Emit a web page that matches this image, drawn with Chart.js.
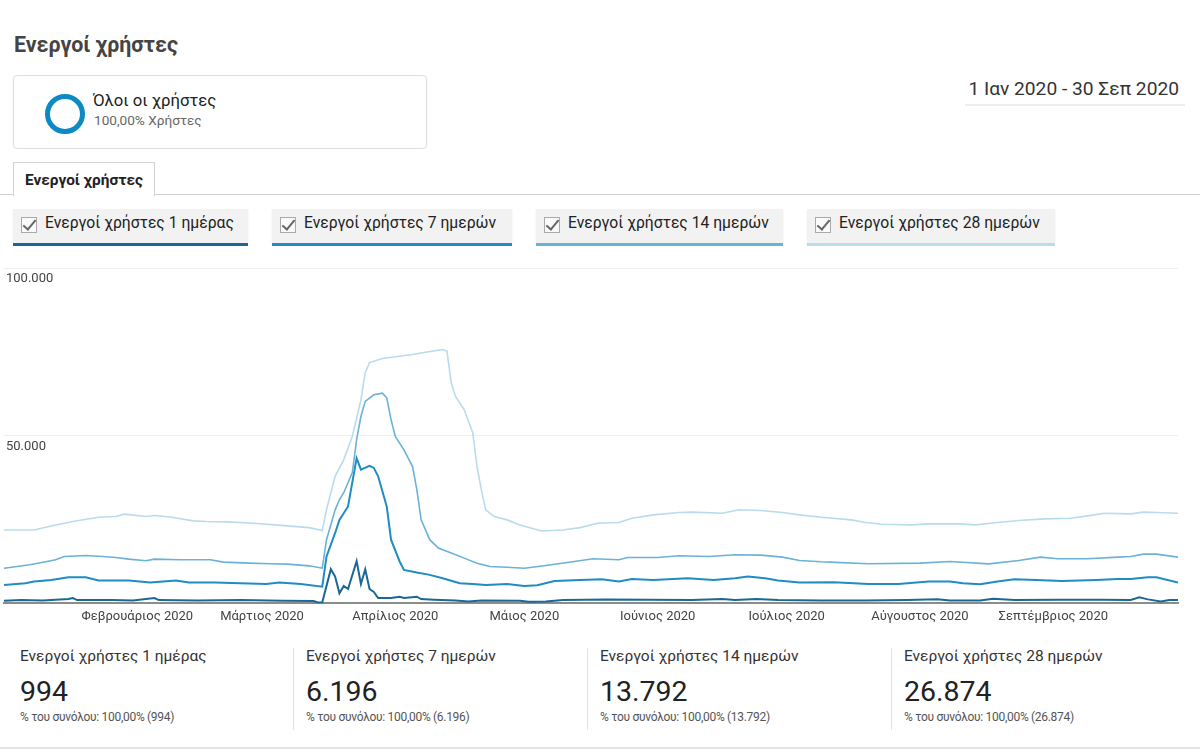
<!DOCTYPE html>
<html lang="el">
<head>
<meta charset="utf-8">
<title>Ενεργοί χρήστες</title>
<script src="https://cdn.jsdelivr.net/npm/chart.js@4.4.1/dist/chart.umd.min.js"></script>
<style>
  html, body { margin: 0; padding: 0; background: #fff; }
  body { width: 1200px; height: 756px; position: relative; overflow: hidden; font-family: Roboto, 'Noto Sans', sans-serif; color: #222; }
  .abs { position: absolute; }
  #title { left: 14px; top: 32px; font-size: 21.4px; font-weight: 700; color: #444; }
  #segment { left: 13px; top: 75px; width: 412px; height: 72px; border: 1px solid #dedede; border-radius: 4px; }
  #ring { left: 31px; top: 18px; width: 30px; height: 30px; border: 5px solid #0d8ac4; border-radius: 50%; }
  #segName { left: 79px; top: 15px; font-size: 16.7px; color: #222; }
  #segSub { left: 80px; top: 36px; font-size: 13.6px; color: #666; }
  #range { right: 21px; top: 77px; font-size: 19.2px; color: #333; }
  #rangeLine { left: 965px; top: 104px; width: 220px; height: 2px; background: #eeeeee; }
  #tabLine { left: 0; top: 194px; width: 1200px; height: 1px; background: #cfcfcf; }
  #tab { left: 13px; top: 162px; width: 140px; height: 33px; border: 1px solid #d4d4d4; border-bottom: 1px solid #fff; background: #fff; font-size: 15.4px; font-weight: 700; color: #222; line-height: 34px; text-indent: 11px; }
  .leg { top: 209px; height: 34px; background: #f2f2f2; box-shadow: 0 1px 2px rgba(0,0,0,.08); }
  .leg .bar { position: absolute; left: 0; right: 0; bottom: -3px; height: 3px; }
  .leg .box { position: absolute; left: 8px; top: 8px; width: 14px; height: 14px; border: 1px solid #aaa; background: #fafafa; }
  .leg .box::after { content: ''; position: absolute; left: 4px; top: -1px; width: 5px; height: 11px; border: solid #666; border-width: 0 2px 2px 0; transform: rotate(40deg); }
  .leg .txt { position: absolute; left: 32px; top: 4px; font-size: 15.7px; color: #222; white-space: nowrap; }
  #chartBox { left: 0; top: 255px; width: 1200px; height: 379px; }
  .stat { top: 647px; }
  .stat .h { font-size: 15.5px; color: #333; white-space: nowrap; }
  .stat .n { font-size: 28.5px; color: #222; margin-top: 10px; }
  .stat .s { font-size: 12px; letter-spacing: -0.3px; color: #555; margin-top: 2px; white-space: nowrap; }
  .sep { top: 648px; width: 1px; height: 82px; background: #e2e2e2; }
  #bottomLine { left: 0; top: 747px; width: 1200px; height: 2px; background: #e4e4e4; }
</style>
</head>
<body>
<div id="title" class="abs">Ενεργοί χρήστες</div>
<div id="segment" class="abs">
  <div id="ring" class="abs"></div>
  <div id="segName" class="abs">Όλοι οι χρήστες</div>
  <div id="segSub" class="abs">100,00% Χρήστες</div>
</div>
<div id="range" class="abs">1 Ιαν 2020 - 30 Σεπ 2020</div>
<div id="rangeLine" class="abs"></div>
<div id="tabLine" class="abs"></div>
<div id="tab" class="abs">Ενεργοί χρήστες</div>
<div id="legend"></div>
<div id="chartBox" class="abs"><canvas id="chart"></canvas></div>
<div id="stats"></div>
<div id="bottomLine" class="abs"></div>

<script>
/* ── Data: day index from 1 Jan 2020 (0) to 30 Sep 2020 (273) ── */
const seriesNames = ['Ενεργοί χρήστες 1 ημέρας', 'Ενεργοί χρήστες 7 ημερών', 'Ενεργοί χρήστες 14 ημερών', 'Ενεργοί χρήστες 28 ημερών'];
const seriesColors = ['#1a6896', '#1f8cc3', '#6ab2d7', '#b8dbee'];

const monthDays   = [31, 60, 91, 121, 152, 182, 213, 244];
const monthLabels = ['Φεβρουάριος 2020', 'Μάρτιος 2020', 'Απρίλιος 2020', 'Μάιος 2020', 'Ιούνιος 2020', 'Ιούλιος 2020', 'Αύγουστος 2020', 'Σεπτέμβριος 2020'];

const days1  = [0, 4, 9, 15, 16, 17, 25, 30, 35, 36, 45, 55, 65, 72, 73, 74, 76, 77, 78, 79, 80, 82, 83, 84, 85, 86, 87, 90, 92, 93, 96, 97, 100, 105, 108, 111, 120, 122, 126, 130, 140, 150, 160, 167, 170, 175, 180, 190, 200, 210, 217, 220, 227, 230, 235, 245, 255, 262, 264, 266, 269, 271, 273];
const users1 = [800, 1000, 900, 1300, 1600, 1000, 1000, 900, 1600, 1000, 900, 1000, 800, 700, 300, 300, 10200, 8000, 3000, 5200, 4300, 12600, 5800, 10200, 4300, 3400, 1600, 1600, 2000, 1600, 2000, 1300, 1100, 900, 600, 900, 800, 500, 600, 1000, 1200, 1100, 1000, 1300, 1000, 1300, 1000, 900, 900, 1000, 1200, 900, 900, 1400, 1000, 1100, 1100, 1000, 1800, 1200, 600, 1000, 994];

const days7  = [0, 5, 7, 11, 15, 19, 22, 25, 29, 34, 37, 40, 43, 49, 55, 61, 64, 69, 74, 75, 77, 78, 80, 82, 83, 85, 86, 87, 89, 90, 92, 93, 96, 99, 102, 106, 109, 112, 117, 121, 124, 128, 134, 139, 143, 146, 151, 159, 165, 170, 173, 177, 180, 185, 193, 201, 208, 215, 220, 223, 227, 231, 235, 240, 246, 254, 259, 262, 266, 268, 273];
const users7 = [5500, 6000, 6500, 7000, 7800, 7800, 6800, 6800, 6800, 6200, 6500, 6800, 6200, 6200, 6000, 5800, 6200, 5800, 5000, 14000, 21000, 24900, 28900, 43300, 39900, 41000, 40400, 37900, 28900, 19000, 12500, 10000, 9200, 8500, 7500, 6000, 5800, 5500, 5800, 5200, 5400, 6700, 7000, 7200, 6500, 7300, 7000, 7500, 7000, 7500, 8000, 7500, 6800, 6200, 6300, 5800, 5800, 6500, 6500, 6000, 5700, 6500, 7200, 7000, 6700, 7000, 7300, 7300, 7800, 7800, 6196];

const days14  = [0, 6, 10, 12, 14, 19, 23, 26, 29, 33, 35, 41, 48, 51, 57, 62, 66, 71, 74, 75, 77, 78, 79, 81, 82, 83, 84, 86, 88, 89, 90, 91, 93, 95, 96, 97, 99, 101, 104, 107, 110, 113, 117, 121, 126, 131, 137, 143, 145, 152, 157, 164, 170, 176, 181, 185, 190, 192, 201, 213, 220, 229, 236, 241, 245, 252, 259, 262, 265, 268, 273];
const users14 = [10500, 11500, 12500, 13000, 14000, 14300, 14000, 13700, 13200, 12700, 13200, 13000, 13000, 12300, 12000, 11800, 11700, 11200, 10500, 19000, 27900, 30900, 33000, 39000, 48800, 55800, 60200, 62200, 62700, 61300, 54800, 49800, 45800, 40800, 33900, 24900, 19000, 16500, 15000, 13500, 12000, 11000, 10800, 10500, 11300, 12200, 13300, 13000, 13700, 13700, 14200, 14000, 14500, 14400, 13800, 12800, 12400, 12300, 11800, 12000, 12500, 11800, 12800, 13800, 13300, 13300, 13800, 14000, 14700, 14700, 13792];

const days28  = [0, 7, 11, 16, 22, 26, 28, 33, 35, 39, 44, 47, 52, 58, 63, 68, 71, 74, 75, 77, 79, 81, 83, 84, 85, 88, 92, 95, 98, 102, 103, 104, 105, 107, 109, 110, 111, 112, 114, 117, 120, 125, 130, 134, 138, 143, 146, 151, 157, 160, 167, 171, 176, 181, 185, 190, 197, 200, 204, 211, 215, 222, 226, 231, 236, 242, 248, 252, 256, 262, 265, 268, 273];
const users28 = [21900, 21900, 23100, 24400, 25700, 25900, 26600, 25900, 26200, 25700, 24600, 24400, 24300, 23900, 23400, 22900, 22600, 21700, 28000, 37900, 42800, 49800, 60700, 68800, 71800, 73000, 73700, 74200, 74900, 75700, 75200, 65800, 61700, 57800, 50900, 40800, 33900, 27900, 25900, 24900, 23400, 21600, 21900, 22600, 23900, 24100, 25400, 26400, 27100, 27200, 26900, 27900, 27700, 27100, 26400, 25700, 24900, 24200, 23600, 23400, 23700, 23700, 23400, 24100, 24700, 25200, 25400, 26100, 26900, 26700, 27200, 27100, 26874];

const totals = ['994', '6.196', '13.792', '26.874'];

/* ── helpers ── */
const fmt = v => String(v).replace(/\B(?=(\d{3})+(?!\d))/g, '.');
const pts = (d, u) => d.map((x, i) => ({ x, y: u[i] }));

/* ── legend chips ── */
const legLeft = [13, 272, 536, 807];
const legWidth = [235, 240, 247, 248];
const legEl = document.getElementById('legend');
seriesNames.forEach((n, i) => {
  const d = document.createElement('div');
  d.className = 'abs leg';
  d.style.left = legLeft[i] + 'px';
  d.style.width = legWidth[i] + 'px';
  d.innerHTML = '<span class="box"></span><span class="txt">' + n + '</span><span class="bar" style="background:' + seriesColors[i] + '"></span>';
  legEl.appendChild(d);
});

/* ── totals row ── */
const statLeft = [20, 306, 600, 904];
const statsEl = document.getElementById('stats');
seriesNames.forEach((n, i) => {
  const d = document.createElement('div');
  d.className = 'abs stat';
  d.style.left = statLeft[i] + 'px';
  d.innerHTML = '<div class="h">' + n + '</div><div class="n">' + totals[i] + '</div><div class="s">% του συνόλου: 100,00% (' + totals[i] + ')</div>';
  statsEl.appendChild(d);
});
[293, 587, 891].forEach(x => {
  const s = document.createElement('div');
  s.className = 'abs sep';
  s.style.left = x + 'px';
  statsEl.appendChild(s);
});

/* ── chart ── */
const sets = [[days28, users28, 3], [days14, users14, 2], [days7, users7, 1], [days1, users1, 0]];
new Chart(document.getElementById('chart').getContext('2d'), {
  type: 'line',
  data: {
    datasets: sets.map(([d, u, k]) => ({
      label: seriesNames[k],
      data: pts(d, u),
      borderColor: seriesColors[k],
      borderWidth: k < 2 ? 2 : 1.6,
      pointRadius: 0,
      tension: 0,
      fill: false
    }))
  },
  options: {
    responsive: true, maintainAspectRatio: false, animation: false,
    layout: { padding: { left: 0, right: 22, top: 13, bottom: 3 } },
    plugins: { legend: { display: false }, tooltip: { enabled: false } },
    scales: {
      x: {
        type: 'linear', min: 0, max: 273,
        afterBuildTicks: axis => { axis.ticks = monthDays.map(v => ({ value: v })); },
        ticks: {
          autoSkip: false, maxRotation: 0, padding: 6,
          color: '#444', font: { family: 'Roboto', size: 13 },
          callback: v => monthLabels[monthDays.indexOf(v)] || ''
        },
        grid: { display: false, drawTicks: false },
        border: { display: true, color: '#8c8c8c', width: 2 }
      },
      y: {
        min: 0, max: 100000,
        ticks: {
          stepSize: 50000, mirror: true, padding: 2, labelOffset: 11,
          color: '#444', font: { family: 'Roboto', size: 13 },
          callback: v => v === 0 ? '' : fmt(v)
        },
        grid: { drawTicks: false, color: c => c.tick && c.tick.value === 0 ? 'rgba(0,0,0,0)' : '#efefef' },
        border: { display: false }
      }
    }
  }
});
</script>
</body>
</html>
